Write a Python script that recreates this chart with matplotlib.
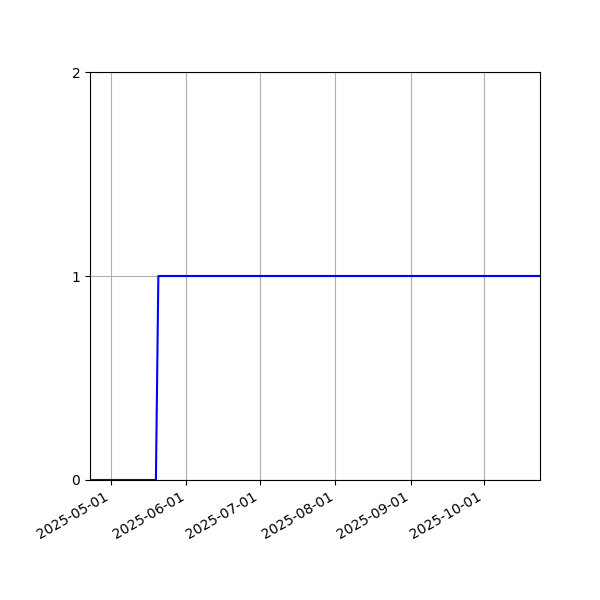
import matplotlib
matplotlib.use("Agg")
import matplotlib.pyplot as plt
import matplotlib.dates as mdates
import numpy as np

# change points of the series (daily samples taken around midday)
dates = np.array(["2025-04-22T12:00", "2025-05-19T12:00", "2025-05-20T12:00", "2025-10-23T20:00"],
                 dtype="datetime64[m]")
values = [0, 0, 1, 1]
y_ticks = [0, 1, 2]

fig, ax = plt.subplots(figsize=(6, 6), dpi=100)
ax.plot(dates, values, color="blue", linewidth=1.5)
ax.set_xlim(dates[0], dates[-1])
ax.set_ylim(0, 2)
ax.set_yticks(y_ticks)
ax.xaxis.set_major_locator(mdates.MonthLocator())
ax.xaxis.set_major_formatter(mdates.DateFormatter("%Y-%m-%d"))
ax.grid(True)
fig.autofmt_xdate()
fig.subplots_adjust(left=0.15, right=0.9, top=0.88, bottom=0.2)

plt.savefig("out.png")
